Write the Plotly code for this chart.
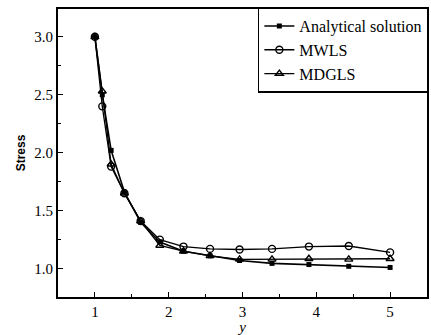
import plotly.graph_objects as go

y_pos = [1.0, 1.1, 1.22, 1.4, 1.62, 1.88, 2.2, 2.56, 2.96, 3.4, 3.9, 4.44, 5.0]
analytical = [3.0, 2.5, 2.02, 1.66, 1.40, 1.23, 1.15, 1.11, 1.07, 1.045, 1.035, 1.02, 1.01]
mwls = [3.0, 2.4, 1.88, 1.65, 1.41, 1.25, 1.19, 1.17, 1.165, 1.17, 1.19, 1.195, 1.14]
mdgls = [3.0, 2.53, 1.90, 1.65, 1.41, 1.20, 1.15, 1.11, 1.08, 1.08, 1.085, 1.08, 1.085]

x_ticks = [1, 2, 3, 4, 5]
y_ticks = [1.0, 1.5, 2.0, 2.5, 3.0]
y_tick_labels = ["1.0", "1.5", "2.0", "2.5", "3.0"]

fig = go.Figure()
fig.add_trace(go.Scatter(x=y_pos, y=analytical, name="Analytical solution", mode="lines+markers",
                         line=dict(color="black", width=1.6),
                         marker=dict(symbol="square", size=5, color="black")))
fig.add_trace(go.Scatter(x=y_pos, y=mwls, name="MWLS", mode="lines+markers",
                         line=dict(color="black", width=1.3),
                         marker=dict(symbol="circle-open", size=7, color="black", line=dict(width=1.4))))
fig.add_trace(go.Scatter(x=y_pos, y=mdgls, name="MDGLS", mode="lines+markers",
                         line=dict(color="black", width=1.3),
                         marker=dict(symbol="triangle-up-open", size=7, color="black", line=dict(width=1.4))))

serif = "Liberation Serif"
fig.update_layout(
    width=431, height=335,
    margin=dict(l=58, r=2, t=9, b=38),
    paper_bgcolor="white", plot_bgcolor="white",
    showlegend=True,
    legend=dict(x=1.005, y=1.005, xanchor="right", yanchor="top",
                bordercolor="black", borderwidth=1.5, bgcolor="white",
                font=dict(family=serif, size=16, color="black"),
                tracegroupgap=0),
    xaxis=dict(range=[0.5, 5.5], tickvals=x_ticks, ticks="inside", ticklen=5,
               tickwidth=1.2, tickcolor="black",
               minor=dict(ticks="inside", ticklen=3, dtick=0.5, tickcolor="black"),
               showline=True, linecolor="black", linewidth=2, mirror=True,
               showgrid=False, zeroline=False,
               tickfont=dict(family=serif, size=15, color="black"),
               title=dict(text="<i>y</i>", font=dict(family=serif, size=15, color="black"), standoff=0)),
    yaxis=dict(range=[0.755, 3.24], tickvals=y_ticks, ticktext=y_tick_labels,
               ticks="inside", ticklen=5, tickwidth=1.2, tickcolor="black",
               minor=dict(ticks="inside", ticklen=3, dtick=0.25, tickcolor="black"),
               showline=True, linecolor="black", linewidth=2, mirror=True,
               showgrid=False, zeroline=False,
               tickfont=dict(family=serif, size=15, color="black"),
               title=dict(text="<b>Stress</b>", font=dict(family="Liberation Sans", size=12, color="black"), standoff=6)),
)
fig.write_html("out.html")
